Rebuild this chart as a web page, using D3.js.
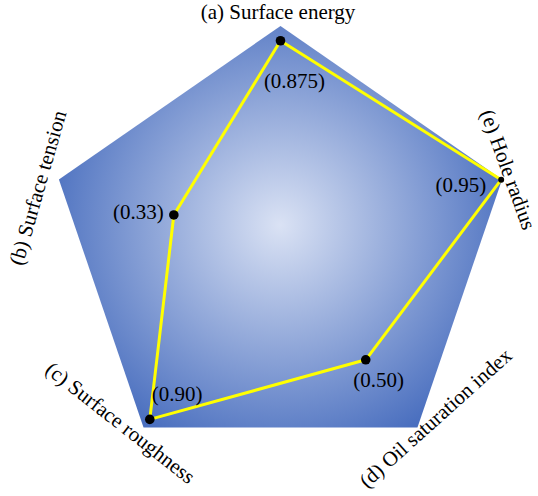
<!DOCTYPE html>
<html>
<head>
<meta charset="utf-8">
<script src="https://cdn.jsdelivr.net/npm/d3@7"></script>
<style>
  body { margin: 0; background: #fff; }
</style>
</head>
<body>
<div id="chart"></div>
<script>
// axis names, clockwise from the top
var axes = ["(a) Surface energy", "(e) Hole radius", "(d) Oil saturation index",
            "(c) Surface roughness", "(b) Surface tension"];
var values = [0.875, 0.95, 0.50, 0.90, 0.33];
var valueLabels = ["(0.875)", "(0.95)", "(0.50)", "(0.90)", "(0.33)"];

var serif = "'Liberation Serif', 'Times New Roman', Times, 'DejaVu Serif', serif";

function init()
{
    var w = 538;
    var h = 496;
    var cx = 280.5, cy = 248;
    var rx = 233, ry = 222;

    var svg = d3.select("#chart")
        .append("svg")
        .attr("width", w)
        .attr("height", h);

    // radial gradient fill for the pentagon
    var grad = svg.append("defs").append("radialGradient")
        .attr("id", "bg")
        .attr("gradientUnits", "userSpaceOnUse")
        .attr("cx", 280).attr("cy", 225).attr("r", 240);
    grad.append("stop").attr("offset", 0).attr("stop-color", "#dae2f4");
    grad.append("stop").attr("offset", 1).attr("stop-color", "#4a6fbf");

    var angle = d3.scaleLinear()
        .domain([0, axes.length])
        .range([-Math.PI / 2, 3 * Math.PI / 2]);

    // radial scale (the centre is not zero in the original)
    var r = d3.scaleLinear()
        .domain([-0.25, 0.955])
        .range([0, 1]);

    function px(i, f) { return cx + rx * f * Math.cos(angle(i)); }
    function py(i, f) { return cy + ry * f * Math.sin(angle(i)); }

    var outline = d3.line()
        .x(function(d, i) { return px(i, 1); })
        .y(function(d, i) { return py(i, 1); })
        .curve(d3.curveLinearClosed);

    svg.append("path")
        .datum(axes)
        .attr("d", outline)
        .attr("fill", "url(#bg)");

    var valueLine = d3.line()
        .x(function(d, i) { return px(i, r(d)); })
        .y(function(d, i) { return py(i, r(d)); })
        .curve(d3.curveLinearClosed);

    svg.append("path")
        .datum(values)
        .attr("d", valueLine)
        .attr("fill", "none")
        .attr("stroke", "#ffff00")
        .attr("stroke-width", 3)
        .attr("stroke-linejoin", "round");

    svg.selectAll("circle.pt")
        .data(values)
        .enter().append("circle")
        .attr("class", "pt")
        .attr("cx", function(d, i) { return px(i, r(d)); })
        .attr("cy", function(d, i) { return py(i, r(d)); })
        .attr("r", function(d, i) { return i === 1 ? 3 : 4.8; })
        .attr("fill", "#000");

    // value label placement relative to each point
    var vOff = [
        { dx: 14, dy: 47, anchor: "middle" },
        { dx: -15, dy: 12, anchor: "end" },
        { dx: 13, dy: 27, anchor: "middle" },
        { dx: 2, dy: -18, anchor: "start" },
        { dx: -10, dy: 4, anchor: "end" }
    ];

    svg.selectAll("text.val")
        .data(values)
        .enter().append("text")
        .attr("class", "val")
        .attr("x", function(d, i) { return px(i, r(d)) + vOff[i].dx; })
        .attr("y", function(d, i) { return py(i, r(d)) + vOff[i].dy; })
        .attr("text-anchor", function(d, i) { return vOff[i].anchor; })
        .attr("font-family", serif)
        .attr("font-size", 21)
        .attr("fill", "#000")
        .text(function(d, i) { return valueLabels[i]; });

    // axis names, placed from each vertex and rotated along the edge
    var aOff = [
        { dx: -2.5, dy: -7, rot: 0, base: "alphabetic" },
        { dx: 4, dy: -9, rot: 70, base: "middle" },
        { dx: 19.5, dy: -8, rot: -42, base: "middle" },
        { dx: -24.5, dy: -3, rot: 38, base: "middle" },
        { dx: -19, dy: 9, rot: -74, base: "middle" }
    ];

    svg.selectAll("text.axis")
        .data(axes)
        .enter().append("text")
        .attr("class", "axis")
        .attr("transform", function(d, i) {
            return "translate(" + (px(i, 1) + aOff[i].dx) + "," + (py(i, 1) + aOff[i].dy) + ") rotate(" + aOff[i].rot + ")";
        })
        .attr("text-anchor", "middle")
        .attr("dominant-baseline", function(d, i) { return aOff[i].base; })
        .attr("font-family", serif)
        .attr("font-size", 21)
        .attr("fill", "#000")
        .text(function(d) { return d; });
}

window.onload = init;
</script>
</body>
</html>
